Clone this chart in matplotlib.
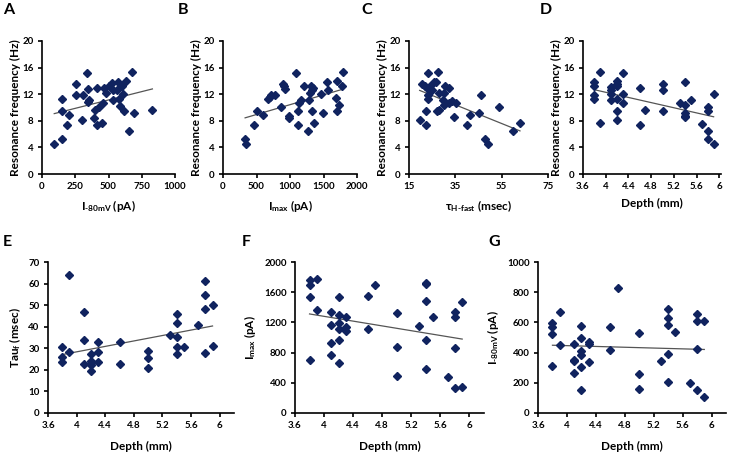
import numpy as np
import matplotlib
matplotlib.use("Agg")
import matplotlib.pyplot as plt
from matplotlib.ticker import FormatStrFormatter

plt.rcParams['font.family'] = ['Lato', 'DejaVu Sans']
plt.rcParams['font.weight'] = 'bold'
plt.rcParams['mathtext.fontset'] = 'custom'
plt.rcParams['mathtext.rm'] = 'Lato:bold'
plt.rcParams['mathtext.it'] = 'Lato:bold'
plt.rcParams['mathtext.bf'] = 'Lato:bold'
plt.rcParams['mathtext.default'] = 'rm'

# =========================
# DATA
# =========================
# A: resonance frequency vs I-80mV
a_i80 = [92, 148, 148, 153, 186, 206, 254, 257, 298, 310, 336, 344, 344, 351, 389, 397, 415, 417, 427,
         450, 455, 466, 478, 504, 524, 532, 537, 565, 573, 578, 588, 600, 611, 613, 634, 656, 674, 690, 830]
a_freq = [4.45, 5.3, 11.25, 9.5, 7.4, 8.85, 13.5, 11.85, 8.05, 11.85, 15.2, 12.75, 10.85, 11.2, 8.45, 9.55, 13.0, 7.4, 10.0,
          7.6, 10.7, 13.0, 12.15, 13.2, 13.7, 12.6, 11.1, 12.7, 13.8, 11.35, 10.3, 13.2, 12.0, 9.5, 13.95, 6.45, 15.3, 9.1, 9.6]

# B: resonance frequency vs Imax
b_imax = [330, 350, 470, 500, 590, 665, 700, 715, 780, 865, 890, 910, 930, 980, 990, 1090, 1115, 1125, 1140, 1165,
          1205, 1275, 1285, 1300, 1315, 1335, 1335, 1350, 1365, 1470, 1490, 1550, 1560, 1685, 1700, 1700, 1735, 1770, 1785]
b_freq = [5.3, 4.45, 7.4, 9.5, 8.85, 11.25, 11.6, 11.95, 11.85, 10.0, 13.5, 13.2, 12.75, 8.35, 8.65, 15.2, 7.4, 9.5, 10.7, 11.1,
          13.2, 6.45, 11.1, 12.2, 13.2, 12.7, 9.5, 13.0, 7.6, 12.0, 9.1, 13.8, 12.7, 11.45, 9.5, 13.95, 10.35, 13.2, 15.3]

# C: resonance frequency vs tau H-fast
c_tau = [19.6, 20.5, 22.1, 22.2, 22.2, 22.8, 23.2, 23.2, 23.2, 23.9, 24.8, 25.6, 26.8, 27.2, 27.7, 27.8, 28.0, 29.7,
         30.0, 30.4, 30.1, 32.1, 32.4, 33.4, 34.3, 35.4, 40.0, 41.2, 45.1, 46.1, 47.7, 49.3, 53.9, 60.0, 62.9]
c_freq = [8.1, 13.5, 13.2, 9.5, 7.4, 13.0, 15.2, 11.95, 11.25, 13.2, 12.7, 13.8, 13.85, 9.5, 15.4, 12.25, 9.6, 11.1,
          10.4, 13.2, 12.2, 13.0, 10.75, 11.05, 8.55, 10.7, 7.4, 8.85, 9.1, 11.95, 5.3, 4.45, 10.0, 6.45, 7.6]

# D, F, G share the same depths
depth = [3.8, 3.8, 3.8, 3.8, 3.9, 3.9, 4.1, 4.1, 4.1, 4.1, 4.2, 4.2, 4.2, 4.2, 4.2, 4.2, 4.3, 4.3, 4.3,
         4.6, 4.6, 4.7, 5.0, 5.0, 5.0, 5.3, 5.4, 5.4, 5.4, 5.4, 5.4, 5.5, 5.7, 5.8, 5.8, 5.8, 5.8, 5.9, 5.9]
d_freq = [13.85, 13.2, 11.95, 11.35, 15.4, 7.6, 13.1, 12.7, 12.0, 11.1, 13.95, 13.6, 13.2, 11.25, 9.5, 8.1, 15.2, 12.1, 10.75,
          12.95, 7.4, 9.6, 13.5, 12.7, 9.5, 10.75, 13.85, 10.35, 9.1, 8.75, 8.5, 11.2, 7.45, 10.0, 9.5, 6.45, 5.3, 12.0, 4.45]
f_imax = [1766, 1691, 1541, 702, 1779, 1369, 1338, 1166, 923, 773, 1541, 1298, 1196, 1117, 962, 667, 1276, 1143, 1086,
          1550, 1108, 1700, 1325, 874, 490, 1148, 1726, 1709, 1479, 962, 583, 1276, 472, 1338, 1267, 865, 327, 1466, 349]
g_i80 = [598, 572, 525, 311, 669, 448, 457, 351, 342, 263, 574, 499, 413, 386, 302, 155, 472, 455, 340,
         567, 417, 826, 528, 256, 159, 342, 691, 629, 583, 391, 208, 534, 196, 656, 609, 426, 150, 609, 104]

# E: tau f vs depth
e_depth = [3.8, 3.8, 3.8, 3.9, 3.9, 4.1, 4.1, 4.1, 4.2, 4.2, 4.2, 4.2, 4.2, 4.3, 4.3, 4.3, 4.6, 4.6,
           5.0, 5.0, 5.0, 5.3, 5.4, 5.4, 5.4, 5.4, 5.4, 5.5, 5.7, 5.8, 5.8, 5.8, 5.8, 5.9, 5.9]
e_tauf = [30.8, 26.0, 23.7, 63.8, 28.5, 46.6, 34.0, 22.8, 27.5, 24.2, 23.2, 22.3, 19.7, 32.8, 28.3, 23.7, 32.9, 22.8,
          28.8, 25.5, 20.9, 36.0, 45.8, 41.7, 35.1, 30.8, 27.4, 30.5, 40.9, 61.1, 54.6, 48.3, 27.7, 50.0, 30.9]

W, H = 729, 454
fig = plt.figure(figsize=(W / 100, H / 100), dpi=100)


def add_ax(x0, x1, y0, y1):
    # pixel box -> figure fraction
    return fig.add_axes([x0 / W, 1 - y1 / H, (x1 - x0) / W, (y1 - y0) / H])


def panel(ax, x, y, xlim, xticks, ylim, yticks, xlabel, ylabel, fmt=None, ylabelpad=1, xlabelpad=5):
    ax.plot(x, y, 'D', color='#10235f', ms=3.9, mec='#10235f', clip_on=False, zorder=3)
    k, b = np.polyfit(x, y, 1)
    xs = np.array([min(x), max(x)])
    ax.plot(xs, k * xs + b, color='#555555', lw=0.9, zorder=2)
    ax.set_xlim(*xlim)
    ax.set_ylim(*ylim)
    ax.set_xticks(xticks)
    ax.set_yticks(yticks)
    if fmt:
        ax.xaxis.set_major_formatter(FormatStrFormatter(fmt))
    for s in ['top', 'right']:
        ax.spines[s].set_visible(False)
    for s in ['left', 'bottom']:
        ax.spines[s].set_linewidth(1.2)
    ax.tick_params(direction='out', length=3, width=1.2, labelsize=7, pad=3)
    for t in ax.get_xticklabels() + ax.get_yticklabels():
        t.set_fontweight('bold')
    ax.set_xlabel(xlabel, fontsize=8.5, fontweight='bold', labelpad=xlabelpad)
    ax.set_ylabel(ylabel, fontsize=8.5, fontweight='bold', labelpad=ylabelpad)


freq_label = 'Resonance frequency (Hz)'
i80_label = r'I$_{\text{-80mV}}$ (pA)'
imax_label = r'I$_{\text{max}}$ (pA)'

ax = add_ax(42, 175, 41, 174)
panel(ax, a_i80, a_freq, (0, 1000), [0, 250, 500, 750, 1000], (0, 20), range(0, 21, 4), i80_label, freq_label)

ax = add_ax(223, 357, 41, 174)
panel(ax, b_imax, b_freq, (0, 2000), [0, 500, 1000, 1500, 2000], (0, 20), range(0, 21, 4), imax_label, freq_label)

ax = add_ax(409, 548, 41, 174)
panel(ax, c_tau, c_freq, (15, 75), [15, 35, 55, 75], (0, 20), range(0, 21, 4),
      r'$\tau_{\text{H-fast}}$ (msec)', freq_label)

depth_ticks = [3.6, 4.0, 4.4, 4.8, 5.2, 5.6, 6.0]
ax = add_ax(583, 721, 41, 174)
panel(ax, depth, d_freq, (3.6, 6.03), depth_ticks, (0, 20), range(0, 21, 4), 'Depth (mm)', freq_label, fmt='%g')

ax = add_ax(48, 234, 262, 413)
panel(ax, e_depth, e_tauf, (3.6, 6.2), depth_ticks, (0, 70), range(0, 71, 10), 'Depth (mm)',
      r'Tau$_{\text{f}}$ (msec)', fmt='%g', ylabelpad=4, xlabelpad=8)

ax = add_ax(295, 484, 262, 413)
panel(ax, depth, f_imax, (3.6, 6.2), depth_ticks, (0, 2000), range(0, 2001, 400), 'Depth (mm)', imax_label,
      fmt='%g', ylabelpad=4, xlabelpad=8)

ax = add_ax(538, 726, 262, 413)
panel(ax, depth, g_i80, (3.6, 6.2), depth_ticks, (0, 1000), range(0, 1001, 200), 'Depth (mm)', i80_label,
      fmt='%g', ylabelpad=4, xlabelpad=8)

# panel letters
letters = [('A', 3, 10), ('B', 178, 10), ('C', 361, 10), ('D', 540, 10),
           ('E', 3, 242), ('F', 242, 242), ('G', 488, 242)]
for t, px, py in letters:
    fig.text(px / W, 1 - py / H, t, fontsize=11.5, fontweight='bold', va='center', ha='left')

fig.savefig("out.png", dpi=100)
